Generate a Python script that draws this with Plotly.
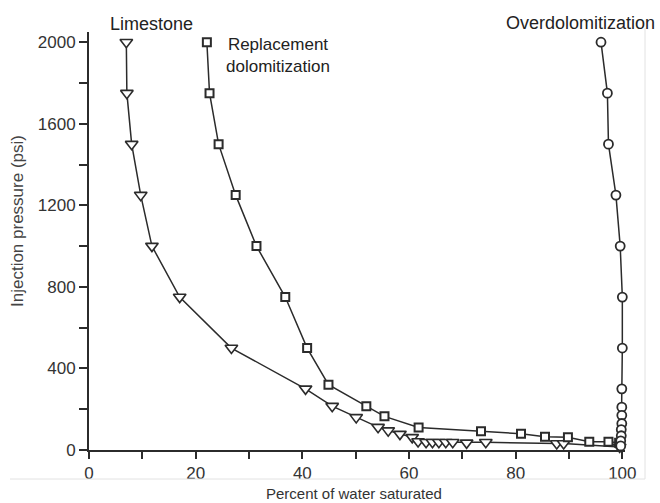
import plotly.graph_objects as go

# Limestone (down triangles)
lime_x = [7.0, 7.1, 8.0, 9.7, 11.8, 17.0, 26.7, 40.6, 45.6, 50.1, 54.2, 56.1, 58.3, 60.6,
          61.7, 63.2, 64.4, 65.6, 66.9, 68.2, 70.8, 74.4, 87.7, 89.0, 99.5]
lime_y = [2000, 1750, 1500, 1250, 1000, 750, 500, 300, 215, 160, 112, 95, 78, 62,
          42, 38, 38, 38, 38, 38, 35, 38, 32, 32, 15]

# Replacement dolomitization (squares)
repl_x = [22.1, 22.6, 24.3, 27.5, 31.4, 36.8, 40.9, 44.9, 52.0, 55.4, 61.8, 73.5, 81.0,
          85.5, 89.8, 93.8, 97.4, 99.4]
repl_y = [2000, 1750, 1500, 1250, 1000, 750, 500, 320, 215, 165, 110, 92, 80,
          65, 62, 40, 40, 35]

# Overdolomitization (circles)
over_x = [96.0, 97.2, 97.4, 98.8, 99.6, 100.0, 100.0, 99.9, 99.9, 99.9, 99.9, 99.8, 99.8, 99.7, 99.7]
over_y = [2000, 1750, 1500, 1250, 1000, 750, 500, 300, 210, 170, 130, 100, 70, 45, 20]

x_ticks = [0, 20, 40, 60, 80, 100]
y_ticks = [0, 400, 800, 1200, 1600, 2000]

ink = "#2b2b2b"
font_family = "Liberation Sans, Arial, sans-serif"

W, H = 660, 503
L, R, T, B = 89, 35, 32, 53

fig = go.Figure()

fig.add_trace(go.Scatter(
    x=lime_x, y=lime_y, mode="lines+markers", name="Limestone",
    line=dict(color=ink, width=1.5),
    marker=dict(symbol="triangle-down", size=11, color="white", line=dict(color=ink, width=1.6)),
    cliponaxis=False,
))
fig.add_trace(go.Scatter(
    x=repl_x, y=repl_y, mode="lines+markers", name="Replacement dolomitization",
    line=dict(color=ink, width=1.5),
    marker=dict(symbol="square", size=8, color="white", line=dict(color=ink, width=2)),
    cliponaxis=False,
))
fig.add_trace(go.Scatter(
    x=over_x, y=over_y, mode="lines+markers", name="Overdolomitization",
    line=dict(color=ink, width=1.5),
    marker=dict(symbol="circle", size=9, color="white", line=dict(color=ink, width=1.8)),
    cliponaxis=False,
))


def px_annot(text, cx, cy, size=14, color="#222", xanchor="center", textangle=0):
    fig.add_annotation(
        x=(cx - L) / (W - L - R), y=(H - B - cy) / (H - T - B),
        xref="paper", yref="paper", text=text, showarrow=False,
        xanchor=xanchor, yanchor="middle", textangle=textangle,
        font=dict(family=font_family, size=size, color=color),
    )


px_annot("Limestone", 151, 24, size=18)
px_annot("Replacement<br>dolomitization", 224, 56, size=17, xanchor="left")
px_annot("Overdolomitization", 580, 23, size=18)
px_annot("Percent of water saturated", 354, 493, size=15, color="#333")
px_annot("Injection pressure (psi)", 17, 221, size=17, color="#444", textangle=-90)

fig.update_layout(
    width=W, height=H,
    margin=dict(l=L, r=R, t=T, b=B),
    paper_bgcolor="white", plot_bgcolor="white",
    showlegend=False,
    font=dict(family=font_family, color="#333"),
    xaxis=dict(
        range=[0, 100.5], tickvals=x_ticks, ticktext=[str(v) for v in x_ticks],
        showgrid=False, zeroline=False, showline=True, linecolor=ink, linewidth=2,
        ticks="outside", ticklen=7, tickwidth=2, tickcolor=ink,
        minor=dict(dtick=10, ticks="outside", ticklen=7, tickwidth=2, tickcolor=ink, showgrid=False),
        tickfont=dict(size=17, color="#333"),
    ),
    yaxis=dict(
        range=[0, 2050], tickvals=y_ticks, ticktext=[str(v) for v in y_ticks],
        showgrid=False, zeroline=False, showline=True, linecolor=ink, linewidth=2,
        ticks="outside", ticklen=8, tickwidth=2, tickcolor=ink,
        minor=dict(dtick=200, ticks="outside", ticklen=8, tickwidth=2, tickcolor=ink, showgrid=False),
        tickfont=dict(size=17, color="#333"),
    ),
    shapes=[
        dict(type="line", xref="paper", yref="paper", x0=(645 - L) / 536, x1=(645 - L) / 536,
             y0=(H - B - 479) / 418, y1=(H - B - 28) / 418,
             line=dict(color="#e2e2e2", width=1)),
        dict(type="line", xref="paper", yref="paper", x0=(10 - L) / 536, x1=(645 - L) / 536,
             y0=(H - B - 479) / 418, y1=(H - B - 479) / 418,
             line=dict(color="#e2e2e2", width=1)),
    ],
)

fig.write_html("out.html")
